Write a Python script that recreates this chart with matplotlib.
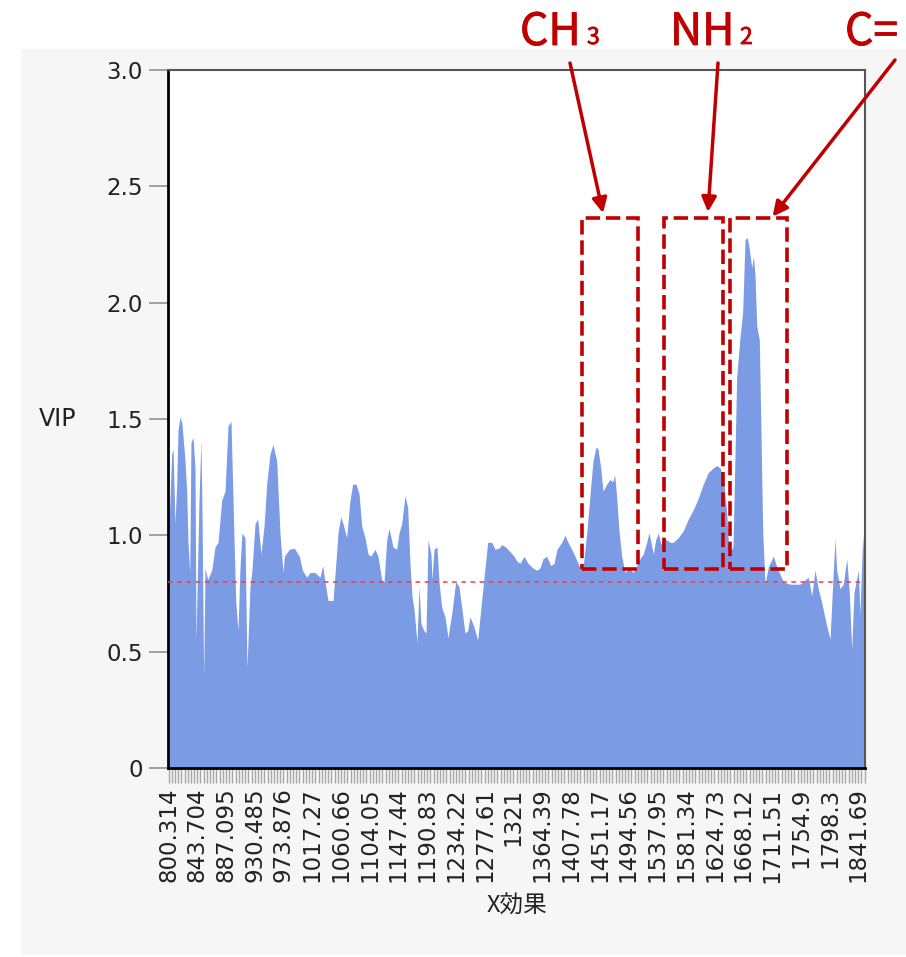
import matplotlib
matplotlib.use("Agg")
import matplotlib.pyplot as plt
import matplotlib.patheffects as pe
from matplotlib.patches import Rectangle
from matplotlib.ticker import FixedLocator
import numpy as np

plt.rcParams['font.family'] = ['DejaVu Sans', 'Noto Sans CJK JP']

# ---- data ----
wavenumber = [801.0, 805.1, 807.1, 810.1, 812.6, 814.6, 817.6, 820.6, 825.2, 827.7,
              829.7, 832.3, 834.2, 837.3, 840.3, 841.8, 844.3, 846.3, 849.3, 850.8,
              853.4, 855.4, 859.4, 865.5, 870.5, 875.0, 880.6, 885.6, 890.1, 894.6,
              897.7, 901.7, 905.2, 908.2, 911.2, 915.8, 918.8, 923.3, 926.3, 930.9,
              935.0, 939.9, 944.5, 948.5, 953.5, 958.1, 963.6, 968.6, 973.2, 975.2,
              982.7, 990.3, 997.8, 1002.4, 1008.9, 1013.9, 1021.5, 1029.0, 1033.1, 1036.6,
              1041.1, 1048.7, 1053.2, 1056.2, 1060.3, 1063.8, 1069.3, 1074.3, 1078.4, 1083.4,
              1087.9, 1092.0, 1097.0, 1101.5, 1105.6, 1112.1, 1116.6, 1122.2, 1125.7, 1129.8,
              1133.2, 1139.3, 1144.8, 1148.3, 1152.4, 1157.4, 1161.4, 1164.9, 1167.9, 1171.0,
              1175.5, 1178.5, 1181.5, 1186.1, 1189.1, 1192.1, 1196.6, 1198.1, 1201.2, 1205.7,
              1208.7, 1212.8, 1217.8, 1222.3, 1228.3, 1233.9, 1238.9, 1243.0, 1248.0, 1252.0,
              1255.5, 1261.1, 1267.1, 1272.1, 1276.7, 1282.3, 1288.3, 1293.3, 1299.3, 1303.4,
              1309.4, 1315.9, 1322.0, 1326.0, 1331.0, 1337.1, 1343.1, 1350.2, 1356.3, 1361.2,
              1365.8, 1371.3, 1377.4, 1382.4, 1386.9, 1394.0, 1399.0, 1403.5, 1409.1, 1414.1,
              1420.1, 1426.2, 1432.2, 1437.8, 1441.3, 1445.8, 1448.8, 1452.9, 1456.4, 1462.0,
              1467.0, 1471.0, 1474.0, 1477.1, 1480.5, 1484.6, 1489.6, 1495.6, 1501.6, 1506.1,
              1512.2, 1517.2, 1522.3, 1525.8, 1528.8, 1532.3, 1535.9, 1539.9, 1543.9, 1547.4,
              1552.6, 1557.5, 1562.5, 1570.1, 1577.6, 1585.2, 1592.7, 1600.3, 1607.8, 1615.4,
              1622.9, 1628.0, 1633.0, 1638.0, 1643.1, 1646.6, 1652.7, 1658.2, 1663.2, 1667.3,
              1670.8, 1674.3, 1677.3, 1681.0, 1683.4, 1685.9, 1688.5, 1692.4, 1694.6, 1697.6,
              1701.0, 1706.0, 1713.6, 1718.7, 1728.7, 1738.8, 1753.9, 1766.4, 1771.6, 1776.5,
              1781.5, 1786.7, 1794.2, 1799.2, 1804.2, 1806.7, 1809.3, 1814.3, 1819.2, 1824.4,
              1828.3, 1831.9, 1835.4, 1841.9, 1844.4, 1848.5, 1851.2]
vip = [1.05, 1.35, 1.37, 1.05, 1.22, 1.45, 1.51, 1.48, 1.32, 1.19,
       0.97, 0.84, 1.40, 1.42, 1.29, 0.55, 0.89, 1.15, 1.41, 1.11,
       0.39, 0.86, 0.81, 0.85, 0.95, 0.97, 1.15, 1.19, 1.47, 1.49,
       1.15, 0.72, 0.59, 0.86, 1.01, 0.99, 0.43, 0.78, 0.85, 1.05,
       1.07, 0.92, 1.04, 1.22, 1.35, 1.39, 1.32, 1.01, 0.84, 0.91,
       0.94, 0.945, 0.91, 0.85, 0.82, 0.84, 0.84, 0.82, 0.87, 0.80,
       0.72, 0.72, 0.89, 1.01, 1.08, 1.05, 0.99, 1.15, 1.22, 1.22,
       1.18, 1.04, 0.99, 0.92, 0.91, 0.94, 0.91, 0.81, 0.80, 0.98,
       1.03, 0.95, 0.94, 1.01, 1.05, 1.17, 1.12, 0.88, 0.74, 0.68,
       0.54, 0.78, 0.62, 0.59, 0.58, 0.98, 0.92, 0.81, 0.94, 0.95,
       0.80, 0.69, 0.65, 0.56, 0.67, 0.80, 0.78, 0.69, 0.58, 0.59,
       0.65, 0.61, 0.55, 0.69, 0.82, 0.97, 0.97, 0.94, 0.945, 0.96,
       0.95, 0.93, 0.91, 0.89, 0.88, 0.91, 0.88, 0.86, 0.85, 0.86,
       0.90, 0.91, 0.87, 0.88, 0.94, 0.97, 1.00, 0.97, 0.94, 0.91,
       0.87, 0.86, 1.02, 1.21, 1.32, 1.38, 1.37, 1.29, 1.19, 1.22,
       1.24, 1.23, 1.26, 1.16, 1.02, 0.91, 0.84, 0.86, 0.84, 0.86,
       0.90, 0.92, 0.97, 1.01, 0.97, 0.92, 0.98, 1.01, 0.96, 0.99,
       0.98, 0.97, 0.97, 0.99, 1.02, 1.07, 1.11, 1.16, 1.22, 1.27,
       1.29, 1.30, 1.29, 1.25, 1.10, 0.92, 0.95, 1.68, 1.85, 1.96,
       2.27, 2.28, 2.23, 2.15, 2.20, 2.12, 1.90, 1.84, 1.49, 1.01,
       0.79, 0.865, 0.91, 0.865, 0.80, 0.79, 0.79, 0.82, 0.74, 0.85,
       0.77, 0.71, 0.61, 0.555, 0.85, 0.985, 0.85, 0.77, 0.79, 0.90,
       0.755, 0.51, 0.755, 0.85, 0.66, 1.00, 0.85]

x_tick_labels = ["800.314", "843.704", "887.095", "930.485", "973.876", "1017.27",
                 "1060.66", "1104.05", "1147.44", "1190.83", "1234.22", "1277.61",
                 "1321", "1364.39", "1407.78", "1451.17", "1494.56", "1537.95",
                 "1581.34", "1624.73", "1668.12", "1711.51", "1754.9", "1798.3",
                 "1841.69"]
y_ticks = [0, 0.5, 1.0, 1.5, 2.0, 2.5, 3.0]
y_tick_labels = ["0", "0.5", "1.0", "1.5", "2.0", "2.5", "3.0"]
threshold = 0.8

# highlighted regions: (label, subscript, x0, x1)
regions = [("CH", "3", 1424.6, 1509.2),
           ("NH", "2", 1548.5, 1637.6),
           ("C=", "", 1648.1, 1734.2)]
region_ylim = (0.855, 2.364)

# ---- figure ----
W, H = 906, 957
fig = plt.figure(figsize=(W / 100, H / 100), dpi=100)
fig.patch.set_facecolor("white")
# light gray report panel
fig.patches.append(Rectangle((21 / W, 2 / H), 1 - 21 / W, 1 - 51 / H,
                             transform=fig.transFigure, facecolor="#f6f6f6",
                             edgecolor="none", zorder=-10))

ax = fig.add_axes([168 / W, 1 - 768 / H, 697 / W, 698 / H])
ax.set_facecolor("white")

ax.fill_between(wavenumber, vip, 0, color="#7b9be4", lw=0, zorder=2)
ax.axhline(threshold, color="#f23c3c", lw=1.1, ls=(0, (3, 3)), zorder=3)

ax.set_xlim(799.5, 1852.0)
ax.set_ylim(0, 3.0)

tick_pos = [float(s) for s in x_tick_labels]
ax.xaxis.set_major_locator(FixedLocator(tick_pos))
ax.set_xticklabels(x_tick_labels, rotation=90, fontsize=16.5, color="#222222")
step = (tick_pos[-1] - tick_pos[0]) / (len(tick_pos) - 1) / 9
ax.xaxis.set_minor_locator(FixedLocator(np.arange(tick_pos[0], 1852.0, step)))
ax.tick_params(axis="x", which="both", length=11, width=1, color="#a8a8a8",
               pad=3)

ax.set_yticks(y_ticks)
ax.set_yticklabels(y_tick_labels, fontsize=16.5, color="#222222")
ax.tick_params(axis="y", length=14, width=1.4, color="#a0a0a0", pad=4)

ax.set_xlabel("X効果", fontsize=17, family=["Noto Sans CJK JP"], labelpad=9,
              color="#222222")
ax.set_ylabel("VIP", fontsize=17, rotation=0, color="#222222", va="center",
              ha="center")
ax.yaxis.set_label_coords(-0.158, 0.5)

ax.spines["left"].set_color("black")
ax.spines["left"].set_linewidth(2)
ax.spines["bottom"].set_color("black")
ax.spines["bottom"].set_linewidth(2)
ax.spines["top"].set_color("#555555")
ax.spines["top"].set_linewidth(1.5)
ax.spines["right"].set_color("#555555")
ax.spines["right"].set_linewidth(1.5)

red = "#c00000"
for label, sub, x0, x1 in regions:
    rect = Rectangle((x0, region_ylim[0]), x1 - x0, region_ylim[1] - region_ylim[0],
                     fill=False, edgecolor=red, lw=2.6, ls=(0, (4, 1.6)),
                     zorder=5, clip_on=False)
    ax.add_patch(rect)

# annotation texts and arrows (positions in pixel from top-left)
def fp(x, y):
    return (x / W, 1 - y / H)

stroke = [pe.withStroke(linewidth=0.6, foreground=red)]
txt_kw = dict(color=red, family=["Noto Sans CJK JP"], transform=fig.transFigure,
              va="baseline", path_effects=stroke)
fig.text(*fp(520, 45), regions[0][0], fontsize=32, ha="left", **txt_kw)
fig.text(*fp(587, 44), regions[0][1], fontsize=16.5, ha="left", **txt_kw)
fig.text(*fp(670, 45), regions[1][0], fontsize=32, ha="left", **txt_kw)
fig.text(*fp(740, 44), regions[1][1], fontsize=16.5, ha="left", **txt_kw)
fig.text(*fp(845, 45), regions[2][0], fontsize=32, ha="left", **txt_kw)

arrow_kw = dict(arrowstyle="-|>", color=red, lw=2.5, mutation_scale=22,
                shrinkA=0, shrinkB=0)
arrow_targets = [(1456.4, 2.385), (1614.9, 2.39), (1712.5, 2.37)]
arrow_tails = [fp(570, 63), fp(718, 63), fp(895, 60)]
for (xt, yt), tail in zip(arrow_targets, arrow_tails):
    ax.annotate("", xy=(xt, yt), xycoords="data", xytext=tail,
                textcoords="figure fraction", arrowprops=arrow_kw,
                annotation_clip=False, zorder=6)

fig.savefig("out.png", dpi=100)
